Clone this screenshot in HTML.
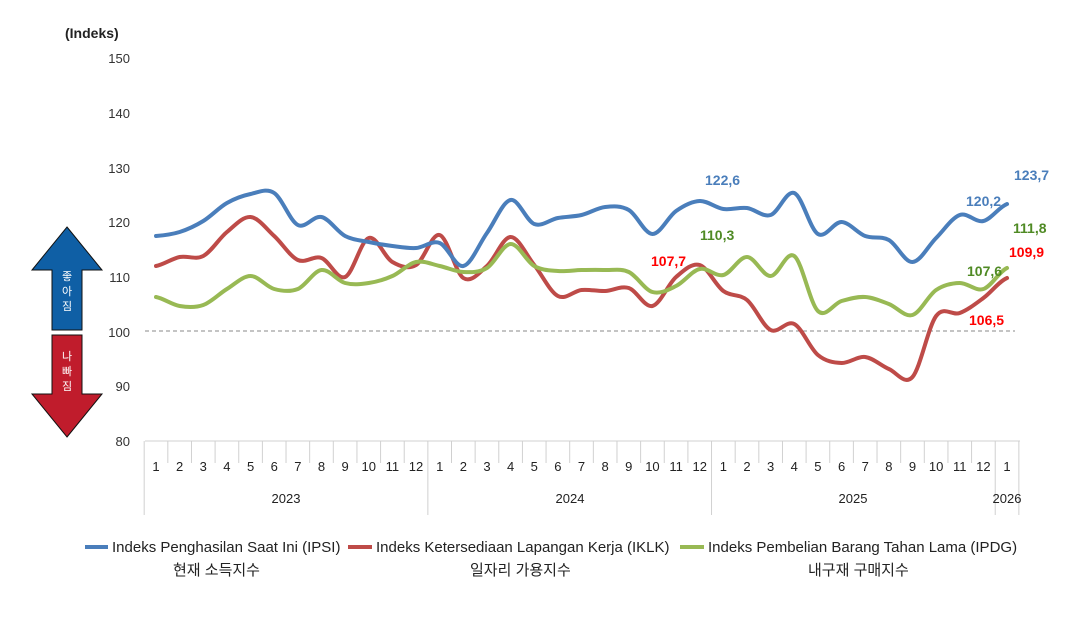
<!DOCTYPE html>
<html><head><meta charset="utf-8"><style>
body{margin:0;background:#fff;width:1068px;height:624px;overflow:hidden}
svg text{font-family:"Liberation Sans","Noto Sans CJK KR",sans-serif}
</style></head><body>
<svg id="s" width="1068" height="624" xmlns="http://www.w3.org/2000/svg">
<text x="65" y="38" font-size="14" font-weight="bold" fill="#222">(Indeks)</text>
<g font-size="13" fill="#333" text-anchor="end">
<text x="130" y="63">150</text><text x="130" y="118">140</text><text x="130" y="173">130</text>
<text x="130" y="227">120</text><text x="130" y="282">110</text><text x="130" y="337">100</text>
<text x="130" y="391">90</text><text x="130" y="446">80</text></g>
<line x1="145" y1="331" x2="1015" y2="331" stroke="#888" stroke-dasharray="4,3" stroke-width="1"/>
<line x1="145" y1="441" x2="1020" y2="441" stroke="#d0d0d0"/>
<g id="ax" stroke="#d0d0d0"></g>
<g id="ml" font-size="13" fill="#222" text-anchor="middle"></g>
<g font-size="13" fill="#222" text-anchor="middle">
<text x="286" y="503">2023</text><text x="570" y="503">2024</text><text x="853" y="503">2025</text><text x="1007" y="503">2026</text></g>
<polygon points="67,227 102,270 82,270 82,330 52,330 52,270 32,270" fill="#0f5fa5" stroke="#111"/>
<polygon points="67,437 102,394 82,394 82,335 52,335 52,394 32,394" fill="#c01c2c" stroke="#111"/>
<g font-size="11" fill="#fff" text-anchor="middle"><text x="67" y="280">좋</text><text x="67" y="295">아</text><text x="67" y="310">짐</text>
<text x="67" y="360">나</text><text x="67" y="375">빠</text><text x="67" y="390">짐</text></g>
<g id="lines" fill="none" stroke-width="4" stroke-linecap="round"></g>
<g font-size="14" font-weight="bold">
<text x="705" y="185" fill="#4a7ebb">122,6</text><text x="700" y="240" fill="#4f8a24">110,3</text>
<text x="651" y="266" fill="#ff0000">107,7</text><text x="966" y="206" fill="#4a7ebb">120,2</text>
<text x="1014" y="180" fill="#4a7ebb">123,7</text><text x="1013" y="233" fill="#4f8a24">111,8</text>
<text x="1009" y="257" fill="#ff0000">109,9</text><text x="967" y="276" fill="#4f8a24">107,6</text>
<text x="969" y="325" fill="#ff0000">106,5</text></g>
<g font-size="15" fill="#222">
<line x1="85" y1="547" x2="108" y2="547" stroke="#4a7ebb" stroke-width="4"/>
<text x="112" y="552">Indeks Penghasilan Saat Ini (IPSI)</text>
<line x1="348" y1="547" x2="372" y2="547" stroke="#be4b48" stroke-width="4"/>
<text x="376" y="552">Indeks Ketersediaan Lapangan Kerja (IKLK)</text>
<line x1="680" y1="547" x2="704" y2="547" stroke="#98b954" stroke-width="4"/>
<text x="708" y="552">Indeks Pembelian Barang Tahan Lama (IPDG)</text>
<text x="173" y="575">현재 소득지수</text><text x="470" y="575">일자리 가용지수</text><text x="808" y="575">내구재 구매지수</text></g>
</svg>
<script>
var NS="http://www.w3.org/2000/svg",x0=156,dx=23.64;
function X(i){return x0+i*dx}
var ax=document.getElementById('ax'),ml=document.getElementById('ml');
for(var i=0;i<=37;i++){var xx=X(i)-dx/2;var l=document.createElementNS(NS,'line');
l.setAttribute('x1',xx);l.setAttribute('x2',xx);l.setAttribute('y1',441);
l.setAttribute('y2',(i%12==0||i==37)?515:463);ax.appendChild(l);}
for(i=0;i<37;i++){var t=document.createElementNS(NS,'text');t.setAttribute('x',X(i));t.setAttribute('y',471);t.textContent=(i%12)+1;ml.appendChild(t);}
var d={"#4a7ebb":[236,232,221,203,194,193,225,217,236,242,246,248,243,266,233,200,224,218,215,207,210,234,211,201,209,208,215,193,234,222,236,240,262,238,215,221,204],
"#be4b48":[266,257,256,232,217,236,260,258,277,238,262,265,235,278,266,237,265,296,290,291,288,306,277,265,291,300,330,324,355,363,357,369,377,316,313,298,278],
"#98b954":[297,306,305,289,276,289,289,270,283,283,276,262,266,272,268,244,266,271,270,270,272,292,286,269,275,257,276,256,311,301,297,304,315,290,283,289,268]};
var g=document.getElementById('lines');
["#be4b48","#98b954","#4a7ebb"].forEach(function(c){var y=d[c],p="M"+X(0)+","+y[0];
for(var i=0;i<y.length-1;i++){var y0=y[Math.max(i-1,0)],y3=y[Math.min(i+2,y.length-1)];
p+=" C"+(X(i)+dx/3)+","+(y[i]+(y[i+1]-y0)/6)+" "+(X(i+1)-dx/3)+","+(y[i+1]-(y3-y[i])/6)+" "+X(i+1)+","+y[i+1];}
var e=document.createElementNS(NS,'path');e.setAttribute('d',p);e.setAttribute('stroke',c);g.appendChild(e);});
</script>
</body></html>
